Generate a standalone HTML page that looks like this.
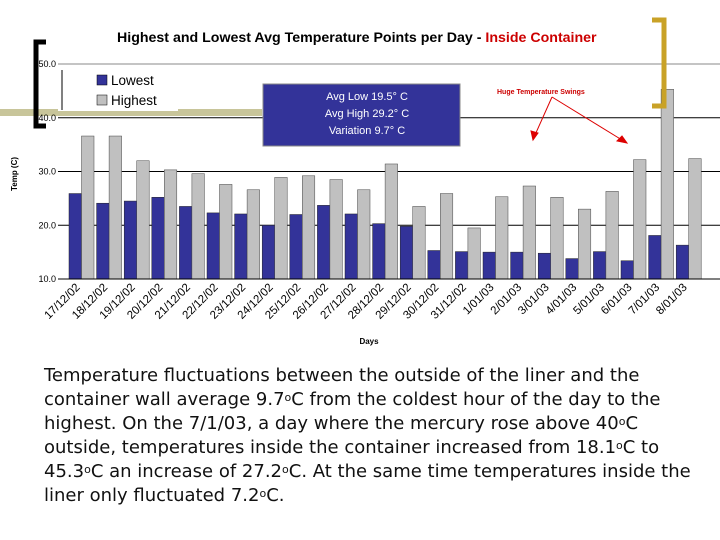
<!DOCTYPE html>
<html><head><meta charset="utf-8"><style>
body{margin:0;background:#fff;width:720px;height:540px;overflow:hidden;font-family:"Liberation Sans",sans-serif}
#para{position:absolute;left:44px;top:364px;font-family:"DejaVu Sans",sans-serif;font-size:18px;line-height:24px;color:#111;margin:0;white-space:nowrap}
#para sup{font-size:11px;vertical-align:4px;line-height:0}
</style></head><body>
<svg id="chart" width="720" height="360" style="position:absolute;left:0;top:0">
<rect x="0" y="109" width="262" height="7" fill="#c8c59a"/>
<g id="grid"></g>
<g id="bars"></g>
<g id="axes"></g>
<path d="M46,42 L36,42 L36,126 L46,126" fill="none" stroke="#000" stroke-width="5"/>
<path d="M652,20 L664,20 L664,106 L652,106" fill="none" stroke="#c9a227" stroke-width="5"/>
<text x="117" y="42" font-size="14.2" font-weight="bold" fill="#000">Highest and Lowest Avg Temperature Points per Day - <tspan fill="#c00">Inside Container</tspan></text>
<g>
<rect x="58" y="65" width="120" height="46" fill="#fff"/>
<line x1="62" y1="70" x2="62" y2="110" stroke="#000" stroke-width="1"/>
<rect x="97" y="75" width="10" height="10" fill="#333399" stroke="#000" stroke-width="0.5"/>
<text x="111" y="85" font-size="13.5">Lowest</text>
<rect x="97" y="95" width="10" height="10" fill="#c0c0c0" stroke="#000" stroke-width="0.5"/>
<text x="111" y="105" font-size="13.5">Highest</text>
</g>
<g>
<rect x="263" y="84" width="197" height="62" fill="#333399" stroke="#888"/>
<text x="367" y="100" font-size="11" fill="#fff" text-anchor="middle">Avg Low 19.5° C</text>
<text x="367" y="117" font-size="11" fill="#fff" text-anchor="middle">Avg High 29.2° C</text>
<text x="367" y="134" font-size="11" fill="#fff" text-anchor="middle">Variation 9.7° C</text>
</g>
<text x="497" y="94" font-size="7" font-weight="bold" fill="#c00">Huge Temperature Swings</text>
<g stroke="#d00" fill="#d00">
<line x1="552" y1="97" x2="535" y2="135"/><polygon points="533,140 531,131 538,133"/>
<line x1="552" y1="97" x2="622" y2="140"/><polygon points="627,143 617,141 622,136"/>
</g>
<text transform="translate(17,174) rotate(-90)" font-size="8" font-weight="bold" text-anchor="middle">Temp (C)</text>
<text x="369" y="344" font-size="8" font-weight="bold" text-anchor="middle">Days</text>
</svg>
<p id="para">Temperature fluctuations between the outside of the liner and the<br>container wall average 9.7<sup>o</sup>C from the coldest hour of the day to the<br>highest. On the 7/1/03, a day where the mercury rose above 40<sup>o</sup>C<br>outside, temperatures inside the container increased from 18.1<sup>o</sup>C to<br>45.3<sup>o</sup>C an increase of 27.2<sup>o</sup>C. At the same time temperatures inside the<br>liner only fluctuated 7.2<sup>o</sup>C.</p>
<script>
const categories=["17/12/02","18/12/02","19/12/02","20/12/02","21/12/02","22/12/02","23/12/02","24/12/02","25/12/02","26/12/02","27/12/02","28/12/02","29/12/02","30/12/02","31/12/02","1/01/03","2/01/03","3/01/03","4/01/03","5/01/03","6/01/03","7/01/03","8/01/03"];
const lowest=[25.9,24.1,24.5,25.2,23.5,22.3,22.1,20.0,22.0,23.7,22.1,20.3,19.8,15.3,15.1,15.0,15.0,14.8,13.8,15.1,13.4,18.1,16.3];
const highest=[36.6,36.6,32.0,30.3,29.6,27.6,26.6,28.9,29.2,28.5,26.6,31.4,23.5,25.9,19.5,25.3,27.3,25.2,23.0,26.3,32.2,45.3,32.4];
const yTicks=[10,20,30,40,50];
const NS="http://www.w3.org/2000/svg";
const x0=58,step=27.6,yMin=10,yMax=50,yBot=279,yTop=64;
function yS(v){return yBot-(v-yMin)/(yMax-yMin)*(yBot-yTop);}
function xS(i){return x0+11+i*step;}
function mk(t,a,p){const e=document.createElementNS(NS,t);for(const k in a)e.setAttribute(k,a[k]);p.appendChild(e);return e;}
const grid=document.getElementById('grid'),bars=document.getElementById('bars'),axes=document.getElementById('axes');
yTicks.forEach(v=>{
  if(v>10){const l=mk('line',{x1:x0,x2:720,y1:yS(v),y2:yS(v),stroke:v==50?'#888':'#000','stroke-width':1},grid);
  
  }
  const t=mk('text',{x:x0-2,y:yS(v)+3,'font-size':9,'text-anchor':'end'},axes);t.textContent=v.toFixed(1);
  
  
});
const bw=12.5;
categories.forEach((c,i)=>{
  const x=xS(i);
  const b1=mk('rect',{x:x,y:yS(lowest[i]),width:bw,height:yBot-yS(lowest[i]),fill:'#333399',stroke:'#222','stroke-width':0.5},bars);
  
  
  const b2=mk('rect',{x:x+bw,y:yS(highest[i]),width:bw,height:yBot-yS(highest[i]),fill:'#c0c0c0',stroke:'#444','stroke-width':0.5},bars);
  
  
  const lx=x+bw-1,ly=yBot+9;
  const t=mk('text',{x:lx,y:ly,'font-size':11.5,'text-anchor':'end',transform:'rotate(-45 '+lx+' '+ly+')'},axes);
  t.textContent=c;
  
  
});
const ax=mk('line',{x1:x0,x2:720,y1:yBot,y2:yBot,stroke:'#000'},axes);


</script>
</body></html>
